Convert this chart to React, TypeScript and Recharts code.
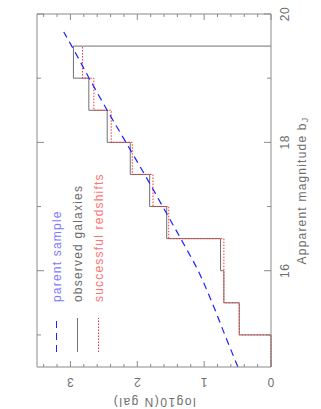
import { LineChart, Line, XAxis, YAxis, Legend } from 'recharts';

const FRAME = '#8a8a8a';
const TEXT = '#6e6e6e';
const FONT = '"Liberation Sans", Arial, sans-serif';

// 0.5 mag bins in b_J and log10 counts per bin
const binLow = [14.5, 15.0, 15.5, 16.0, 16.5, 17.0, 17.5, 18.0, 18.5, 19.0];
const binHigh = [15.0, 15.5, 16.0, 16.5, 17.0, 17.5, 18.0, 18.5, 19.0, 19.5];
const observedGalaxies = [0, 0.475, 0.705, 0.755, 1.56, 1.815, 2.105, 2.45, 2.725, 2.955];
const successfulRedshifts = [0, 0.475, 0.705, 0.705, 1.53, 1.765, 2.075, 2.39, 2.65, 2.82];

// parent sample counts (dashed curve)
const parentMags = [14.5, 15.0, 15.5, 16.0, 16.5, 17.0, 17.5, 18.0, 18.5, 19.0, 19.5, 19.72];
const parentSample = [0.495, 0.69, 0.88, 1.09, 1.35, 1.62, 1.89, 2.17, 2.45, 2.72, 2.98, 3.1];

const magTicks = [15, 16, 17, 18, 19, 20];
const magLabels = [16, 18, 20];
const logTicks = [0, 0.2, 0.4, 0.6, 0.8, 1, 1.2, 1.4, 1.6, 1.8, 2, 2.2, 2.4, 2.6, 2.8, 3, 3.2, 3.4];
const logLabels = [0, 1, 2, 3];

const legendItems = [
  { label: 'parent sample', stroke: '#1f1fff', text: '#7a7aff', dash: '7 5' },
  { label: 'observed galaxies', stroke: '#707070', text: '#6a6a6a', dash: undefined },
  { label: 'successful redshifts', stroke: '#ff3030', text: '#ff7272', dash: '1.5 1.5' },
];

// histogram outline: both edges of every bin
const histogram = (values: number[], closeToZero: boolean) => {
  const pts: { mag: number; value: number }[] = [];
  values.forEach((v, i) => {
    pts.push({ mag: binLow[i], value: v });
    pts.push({ mag: binHigh[i], value: v });
  });
  if (closeToZero) pts.push({ mag: binHigh[binHigh.length - 1], value: 0 });
  return pts;
};

const observedData = histogram(observedGalaxies, true);
const redshiftData = histogram(successfulRedshifts, false);
const parentData = parentMags.map((mag, i) => ({ mag, value: parentSample[i] }));

// the plot is drawn sideways (409 x 321) and then turned to fit 321 x 409
const W = 409;
const H = 321;

function BottomTick({ x, y, payload }: any) {
  const major = magLabels.includes(payload.value);
  return (
    <g>
      <line x1={x} y1={y} x2={x} y2={y - (major ? 7 : 4)} stroke={FRAME} />
      {major && (
        <text x={x} y={y + 14} textAnchor="middle" dominantBaseline="central" fill={TEXT} fontSize={12} fontFamily={FONT} letterSpacing={0.5}>
          {payload.value}
        </text>
      )}
    </g>
  );
}

function TopTick({ x, y, payload }: any) {
  const major = magLabels.includes(payload.value);
  return <line x1={x} y1={y} x2={x} y2={y + (major ? 7 : 4)} stroke={FRAME} />;
}

function LeftTick({ x, y, payload }: any) {
  const major = logLabels.includes(payload.value);
  const tx = x - 15;
  return (
    <g>
      <line x1={x} y1={y} x2={x + (major ? 6 : 3)} y2={y} stroke={FRAME} />
      {major && (
        <text x={tx} y={y} transform={`rotate(-90 ${tx} ${y})`} textAnchor="middle" dominantBaseline="central" fill={TEXT} fontSize={12} fontFamily={FONT}>
          {payload.value}
        </text>
      )}
    </g>
  );
}

function RightTick({ x, y, payload }: any) {
  const major = logLabels.includes(payload.value);
  return <line x1={x} y1={y} x2={x - (major ? 6 : 3)} y2={y} stroke={FRAME} />;
}

function MagTitle({ viewBox }: any) {
  const cx = viewBox.x + viewBox.width / 2;
  const cy = viewBox.y + 31;
  return (
    <text x={cx} y={cy} textAnchor="middle" dominantBaseline="central" fill={TEXT} fontSize={12} fontFamily={FONT} letterSpacing={1.2}>
      Apparent magnitude b<tspan dy={3} fontSize={9}>J</tspan>
    </text>
  );
}

function LogTitle({ viewBox }: any) {
  const cx = viewBox.x + viewBox.width - 35;
  const cy = viewBox.y + viewBox.height / 2;
  return (
    <text x={cx} y={cy} transform={`rotate(-90 ${cx} ${cy})`} textAnchor="middle" dominantBaseline="central" fill={TEXT} fontSize={12} fontFamily={FONT} letterSpacing={1.5}>
      log10(N gal)
    </text>
  );
}

function LegendBox() {
  return (
    <div style={{ fontFamily: FONT, fontSize: 12, letterSpacing: 1.2 }}>
      {legendItems.map((item) => (
        <div key={item.label} style={{ display: 'flex', alignItems: 'center', height: 21 }}>
          <svg width={34} height={21} style={{ display: 'block' }}>
            <line x1={0} y1={10.5} x2={34} y2={10.5} stroke={item.stroke} strokeDasharray={item.dash} />
          </svg>
          <span style={{ marginLeft: 16, color: item.text, whiteSpace: 'nowrap' }}>{item.label}</span>
        </div>
      ))}
    </div>
  );
}

export default function App() {
  return (
    <div style={{ position: 'absolute', left: 0, top: 0, width: H, height: W, overflow: 'hidden', background: '#fff' }}>
      <div
        style={{
          position: 'absolute',
          left: 0,
          top: 0,
          width: W,
          height: H,
          transformOrigin: '0 0',
          transform: `translate(0px, ${W}px) rotate(-90deg)`,
        }}
      >
        <LineChart width={W} height={H} margin={{ top: 36, right: 13, bottom: 20, left: 12 }}>
          <XAxis
            type="number"
            dataKey="mag"
            domain={[14.5, 20]}
            ticks={magTicks}
            interval={0}
            height={30}
            tickSize={0}
            tickMargin={0}
            tickLine={false}
            tick={<BottomTick />}
            axisLine={{ stroke: FRAME }}
            label={<MagTitle />}
          />
          <XAxis
            xAxisId="top"
            orientation="top"
            type="number"
            dataKey="mag"
            domain={[14.5, 20]}
            allowDataOverflow
            ticks={magTicks}
            interval={0}
            height={1}
            tickSize={0}
            tickMargin={0}
            tickLine={false}
            tick={<TopTick />}
            axisLine={{ stroke: FRAME }}
          />
          <YAxis
            type="number"
            domain={[0, 3.5]}
            ticks={logTicks}
            interval={0}
            width={30}
            tickSize={0}
            tickMargin={0}
            tickLine={false}
            tick={<LeftTick />}
            axisLine={{ stroke: FRAME }}
            label={<LogTitle />}
          />
          <YAxis
            yAxisId="right"
            orientation="right"
            type="number"
            domain={[0, 3.5]}
            allowDataOverflow
            ticks={logTicks}
            interval={0}
            width={1}
            tickSize={0}
            tickMargin={0}
            tickLine={false}
            tick={<RightTick />}
            axisLine={{ stroke: FRAME }}
          />
          <Legend
            layout="vertical"
            align="center"
            verticalAlign="middle"
            content={<LegendBox />}
            wrapperStyle={{ left: 57, top: 46, width: 'auto', height: 'auto' }}
          />
          <Line
            data={observedData}
            dataKey="value"
            name="observed galaxies"
            type="linear"
            stroke="#707070"
            strokeWidth={1}
            dot={false}
            isAnimationActive={false}
          />
          <Line
            data={redshiftData}
            dataKey="value"
            name="successful redshifts"
            type="linear"
            stroke="#ff3030"
            strokeWidth={1}
            strokeDasharray="1.5 1.5"
            dot={false}
            isAnimationActive={false}
          />
          <Line
            data={parentData}
            dataKey="value"
            name="parent sample"
            type="monotone"
            stroke="#1f1fff"
            strokeWidth={1.2}
            strokeDasharray="7 5"
            dot={false}
            isAnimationActive={false}
          />
        </LineChart>
      </div>
    </div>
  );
}
